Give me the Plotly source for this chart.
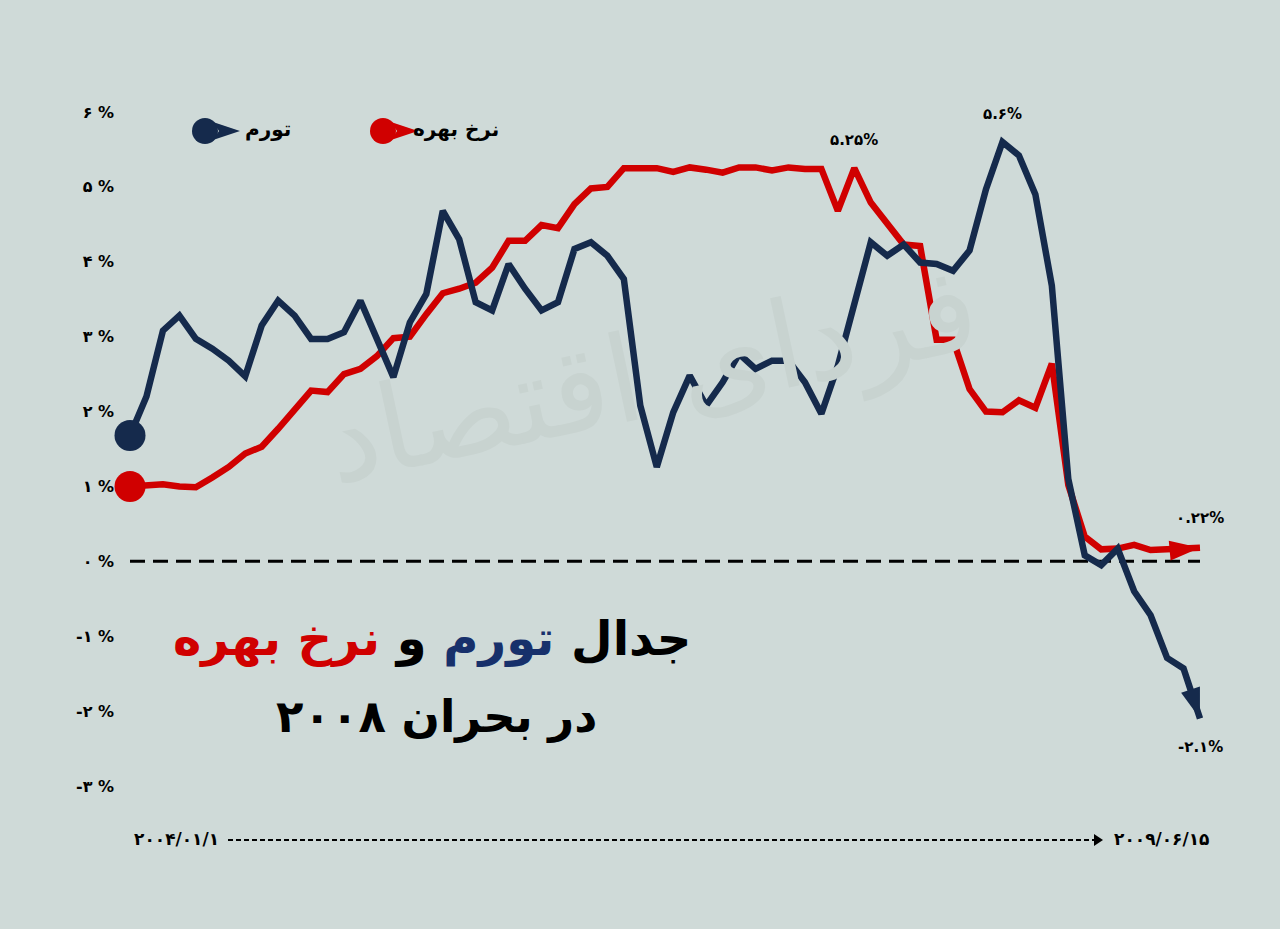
import plotly.graph_objects as go

# ---------------- data (monthly, 2004/01 -> 2009/06) ----------------
months = list(range(66))
inflation = [1.68, 2.2, 3.08, 3.28, 2.97, 2.84, 2.68, 2.47, 3.15, 3.48,
             3.28, 2.97, 2.97, 3.06, 3.48, 2.95, 2.46, 3.19, 3.57, 4.68,
             4.3, 3.46, 3.35, 3.97, 3.64, 3.35, 3.46, 4.17, 4.26, 4.08,
             3.77, 2.08, 1.26, 1.99, 2.48, 2.08, 2.39, 2.77, 2.57, 2.68,
             2.68, 2.39, 1.97, 2.61, 3.41, 4.26, 4.08, 4.23, 3.99, 3.97,
             3.88, 4.15, 4.97, 5.6, 5.42, 4.9, 3.68, 1.1, 0.08, -0.05,
             0.17, -0.4, -0.72, -1.29, -1.43, -2.1]
interest = [1.0, 1.02, 1.03, 1.0, 0.99, 1.12, 1.26, 1.44, 1.53, 1.77,
            2.03, 2.28, 2.26, 2.5, 2.57, 2.74, 2.98, 3.0, 3.3, 3.58,
            3.64, 3.72, 3.92, 4.28, 4.28, 4.49, 4.45, 4.77, 4.98, 5.0,
            5.25, 5.25, 5.25, 5.2, 5.26, 5.23, 5.19, 5.26, 5.26, 5.22,
            5.26, 5.24, 5.24, 4.68, 5.25, 4.79, 4.52, 4.23, 4.21, 2.96,
            2.96, 2.3, 2.0, 1.99, 2.15, 2.05, 2.64, 1.02, 0.33, 0.16,
            0.17, 0.22, 0.15, 0.16, 0.16, 0.18]

series_names = ["تورم", "نرخ بهره"]
y_tickvals = [6, 5, 4, 3, 2, 1, 0, -1, -2, -3]
y_ticktext = ["۶ %", "۵ %", "۴ %", "۳ %", "۲ %", "۱ %", "۰ %", "-۱ %", "-۲ %", "-۳ %"]
start_label = "۲۰۰۴/۰۱/۱"
end_label = "۲۰۰۹/۰۶/۱۵"
title_parts = ["جدال", "تورم", "و", "نرخ بهره"]
subtitle = "در بحران ۲۰۰۸"
peak_labels = {"interest_peak": "۵.۲۵%", "inflation_peak": "۵.۶%",
               "interest_end": "۰.۲۲%", "inflation_end": "-۲.۱%"}
watermark = "فردای اقتصاد"

# ---------------- style ----------------
BG = "#cfdad8"
BLUE = "#152a4c"
RED = "#d00000"
TITLE_BLUE = "#17306b"
FONT = "DejaVu Sans"

W, H = 1280, 929
L, R, T, B = 115, 40, 80, 89
PW, PH = W - L - R, H - T - B


def px(xp):
    return (xp - L) / PW


def py(yp):
    return (H - B - yp) / PH


def note(xp, yp, text, size, color="black", **kw):
    fig.add_annotation(x=px(xp), y=py(yp), xref="paper", yref="paper",
                       xanchor="center", yanchor="middle", text=text,
                       showarrow=False, font=dict(family=FONT, size=size, color=color), **kw)


fig = go.Figure()

# watermark
note(650, 375, watermark, 120, "#c8d3d0", textangle=-12)

# zero line
fig.add_shape(type="line", xref="x", yref="y", x0=months[0], x1=months[-1],
              y0=0, y1=0, line=dict(color="black", width=3, dash="15px,8px"),
              layer="below")

for vals, color, name in [(interest, RED, series_names[1]),
                          (inflation, BLUE, series_names[0])]:
    fig.add_trace(go.Scatter(
        x=months, y=vals, mode="lines", name=name,
        line=dict(color=color, width=6.5),
        cliponaxis=False, showlegend=False, hoverinfo="skip"))
    # start dot
    fig.add_trace(go.Scatter(
        x=months[:1], y=vals[:1], mode="markers",
        marker=dict(color=color, symbol="circle", size=31, opacity=1, line=dict(width=0)),
        cliponaxis=False, showlegend=False, hoverinfo="skip"))
    # end arrow head
    fig.add_trace(go.Scatter(
        x=months[-2:], y=vals[-2:], mode="markers",
        marker=dict(color=color, symbol="arrow", size=[0, 32], angleref="previous",
                    opacity=1, line=dict(width=0)),
        cliponaxis=False, showlegend=False, hoverinfo="skip"))

# value labels
lab_font = dict(family=FONT, size=15, color="black")
i_peak_r = 44
i_peak_b = inflation.index(max(inflation))
fig.add_annotation(x=i_peak_r, y=interest[i_peak_r], text="<b>" + peak_labels["interest_peak"] + "</b>",
                   showarrow=False, yshift=28, font=lab_font)
fig.add_annotation(x=i_peak_b, y=inflation[i_peak_b], text="<b>" + peak_labels["inflation_peak"] + "</b>",
                   showarrow=False, yshift=28, font=lab_font)
fig.add_annotation(x=months[-1], y=interest[-1], text="<b>" + peak_labels["interest_end"] + "</b>",
                   showarrow=False, yshift=30, font=lab_font)
fig.add_annotation(x=months[-1], y=inflation[-1], text="<b>" + peak_labels["inflation_end"] + "</b>",
                   showarrow=False, yshift=-28, font=lab_font)

# legend (custom)
for cx, color, name, tx in [(205, BLUE, series_names[0], 268),
                            (383, RED, series_names[1], 456)]:
    fig.add_shape(type="circle", xref="paper", yref="paper",
                  xsizemode="pixel", ysizemode="pixel",
                  xanchor=px(cx), yanchor=py(131),
                  x0=-13, x1=13, y0=-13, y1=13,
                  fillcolor=color, line=dict(width=0))
    fig.add_shape(type="path", xref="paper", yref="paper",
                  xsizemode="pixel", ysizemode="pixel",
                  xanchor=px(cx), yanchor=py(131),
                  path="M 8,-9 L 35,0 L 8,9 L 14,0 Z",
                  fillcolor=color, line=dict(width=0))
    note(tx, 129, "<b>" + name + "</b>", 20)

# title
title_html = ("<b>" + title_parts[0] + " <span style='color:" + TITLE_BLUE + "'>" + title_parts[1] +
              "</span> " + title_parts[2] + " <span style='color:" + RED + "'>" + title_parts[3] +
              "</span></b>")
note(432, 638, title_html, 48)
note(436, 716, "<b>" + subtitle + "</b>", 45)

# bottom time axis
fig.add_shape(type="line", xref="paper", yref="paper", x0=px(228), x1=px(1094),
              y0=py(840), y1=py(840), line=dict(color="black", width=2, dash="5px,3px"))
fig.add_shape(type="path", xref="paper", yref="paper", xsizemode="pixel", ysizemode="pixel",
              xanchor=px(1094), yanchor=py(840), path="M 0,-6 L 9,0 L 0,6 Z",
              fillcolor="black", line=dict(width=0))
note(176, 839, "<b>" + start_label + "</b>", 17)
note(1161, 839, "<b>" + end_label + "</b>", 17)

x0_val = -(130 - L) / 16.46
x1_val = 65 + (W - R - 1200) / 16.46
y_top = 6 + (112 - T) / 74.89
y_bot = -3 - (H - B - 786) / 74.89

fig.update_layout(
    width=W, height=H, paper_bgcolor=BG, plot_bgcolor=BG,
    margin=dict(l=L, r=R, t=T, b=B),
    xaxis=dict(range=[x0_val, x1_val], visible=False, showgrid=False, zeroline=False),
    yaxis=dict(range=[y_bot, y_top], tickvals=y_tickvals,
               ticktext=["<b>" + t + "</b>" for t in y_ticktext],
               showgrid=False, zeroline=False, showline=False, ticks="",
               tickfont=dict(family=FONT, size=16, color="black")),
    font=dict(family=FONT),
)

fig.write_html("out.html", config={"displayModeBar": False},
               post_script="document.body.style.margin='0px';document.body.style.background='" + BG + "';")
